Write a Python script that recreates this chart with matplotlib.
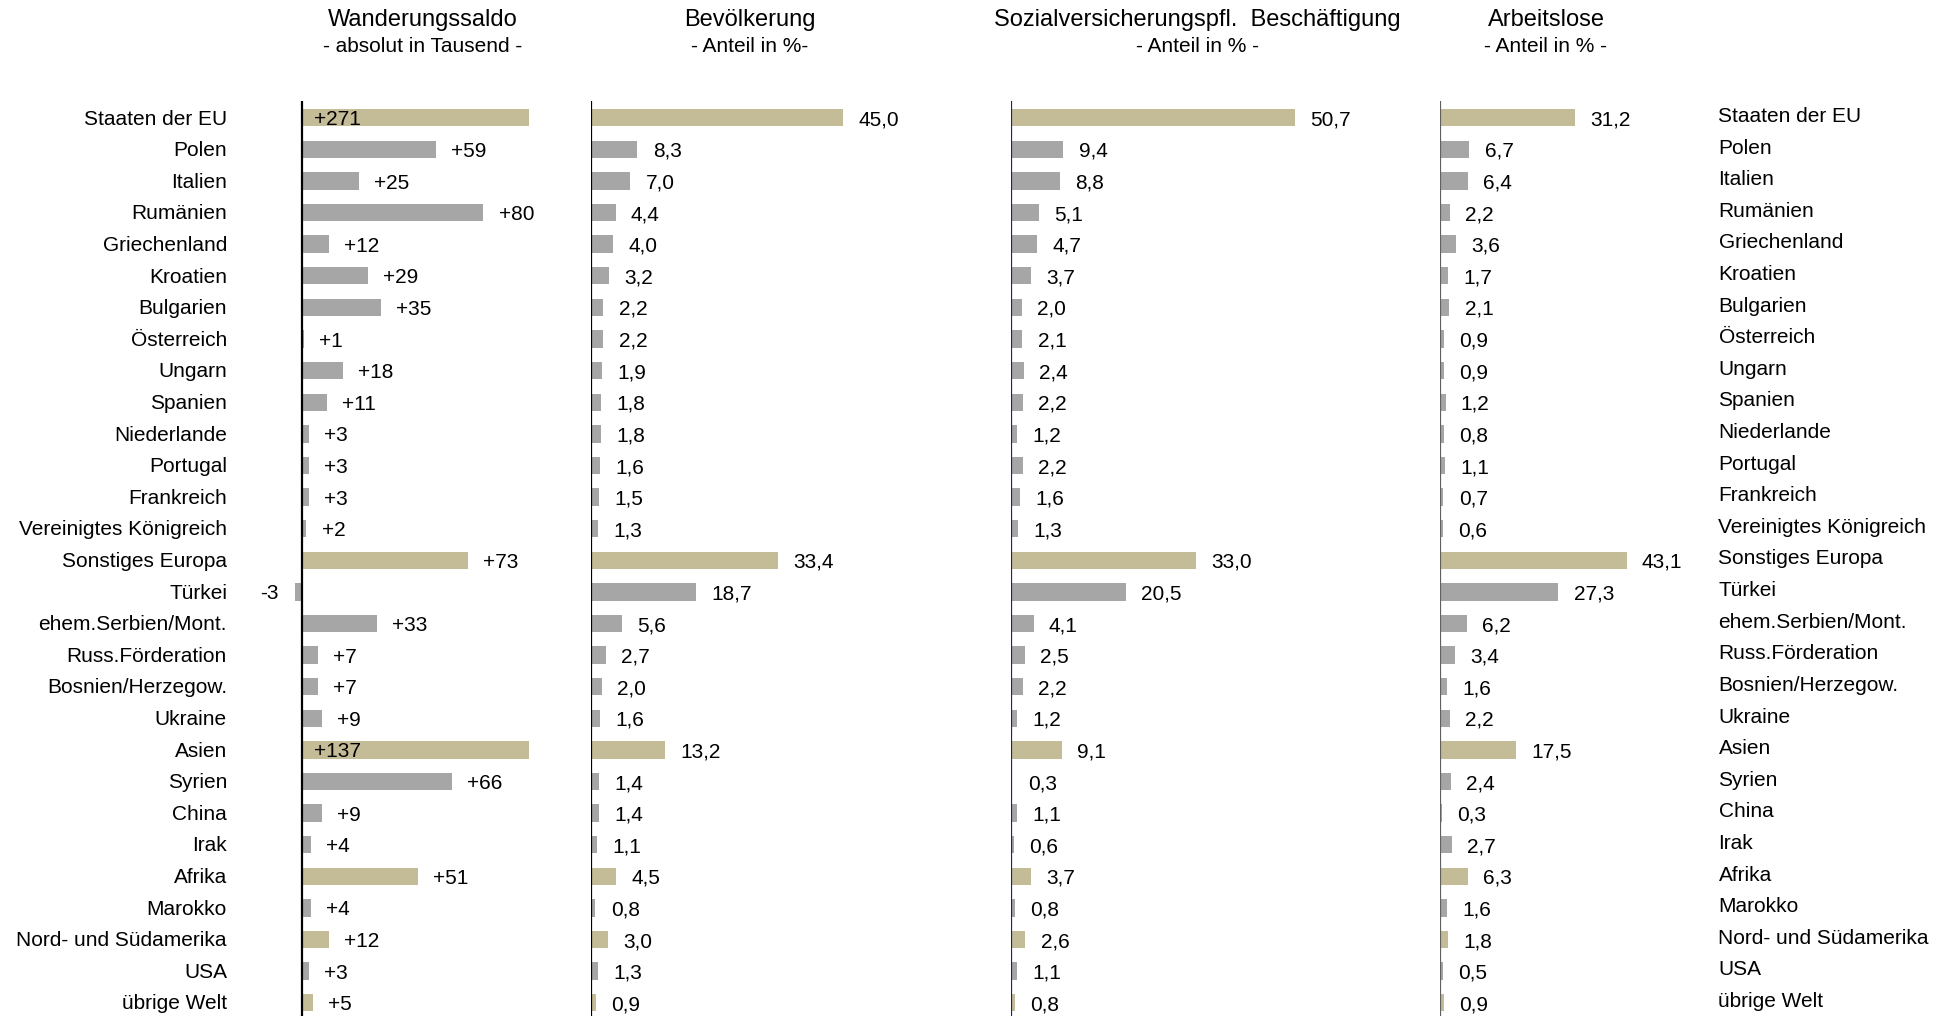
import matplotlib.pyplot as plt
import matplotlib.transforms as mtransforms

plt.rcParams['font.family'] = ['Liberation Sans', 'DejaVu Sans']

laender = ['Staaten der EU', 'Polen', 'Italien', 'Rumänien', 'Griechenland', 'Kroatien',
           'Bulgarien', 'Österreich', 'Ungarn', 'Spanien', 'Niederlande', 'Portugal',
           'Frankreich', 'Vereinigtes Königreich', 'Sonstiges Europa', 'Türkei',
           'ehem.Serbien/Mont.', 'Russ.Förderation', 'Bosnien/Herzegow.', 'Ukraine',
           'Asien', 'Syrien', 'China', 'Irak', 'Afrika', 'Marokko',
           'Nord- und Südamerika', 'USA', 'übrige Welt']
gruppen = ['Staaten der EU', 'Sonstiges Europa', 'Asien', 'Afrika',
           'Nord- und Südamerika', 'übrige Welt']

saldo = [271, 59, 25, 80, 12, 29, 35, 1, 18, 11, 3, 3, 3, 2, 73, -3, 33, 7, 7, 9,
         137, 66, 9, 4, 51, 4, 12, 3, 5]
bevoelkerung = [45.0, 8.3, 7.0, 4.4, 4.0, 3.2, 2.2, 2.2, 1.9, 1.8, 1.8, 1.6, 1.5, 1.3,
                33.4, 18.7, 5.6, 2.7, 2.0, 1.6, 13.2, 1.4, 1.4, 1.1, 4.5, 0.8, 3.0, 1.3, 0.9]
beschaeftigung = [50.7, 9.4, 8.8, 5.1, 4.7, 3.7, 2.0, 2.1, 2.4, 2.2, 1.2, 2.2, 1.6, 1.3,
                  33.0, 20.5, 4.1, 2.5, 2.2, 1.2, 9.1, 0.3, 1.1, 0.6, 3.7, 0.8, 2.6, 1.1, 0.8]
arbeitslose = [31.2, 6.7, 6.4, 2.2, 3.6, 1.7, 2.1, 0.9, 0.9, 1.2, 0.8, 1.1, 0.7, 0.6,
               43.1, 27.3, 6.2, 3.4, 1.6, 2.2, 17.5, 2.4, 0.3, 2.7, 6.3, 1.6, 1.8, 0.5, 0.9]

titel = ['Wanderungssaldo', 'Bevölkerung', 'Sozialversicherungspfl.  Beschäftigung', 'Arbeitslose']
untertitel = ['- absolut in Tausend -', '- Anteil in %-', '- Anteil in % -', '- Anteil in % -']

beige = '#c4bc97'
grau = '#a6a6a6'
farben = [beige if l in gruppen else grau for l in laender]

W, H = 1947, 1016
fig = plt.figure(figsize=(W / 100, H / 100), dpi=100)

# pixel layout: (axis line x, px per unit, xmin, xmax, axis color)
panels = [
    (301.7, 2.272, -8, 100, 'black'),
    (591.0, 5.60, 0, 50, 'black'),
    (1010.7, 5.61, 0, 55, '#1c1c96'),
    (1440.4, 4.32, 0, 50, '#606060'),
]
daten = [saldo, bevoelkerung, beschaeftigung, arbeitslose]
title_x = [423, 750, 1197, 1546]

y_top, y_bot = 101, 1016
rows = list(range(len(laender)))

for i, (x0, ppu, xmin, xmax, acol) in enumerate(panels):
    left = x0 + xmin * ppu
    width = (xmax - xmin) * ppu
    ax = fig.add_axes([left / W, 0, width / W, (y_bot - y_top) / H])
    ax.set_xlim(xmin, xmax)
    ax.set_ylim(28.42, -0.53)
    ax.axis('off')
    vals = daten[i]
    ax.barh(rows, vals, height=0.55, color=farben, zorder=2)
    ax.axvline(0, color=acol, lw=1.6, zorder=3)
    for r, v in zip(rows, vals):
        if i == 0:
            txt = '%+d' % v
            if v > xmax:
                ax.annotate(txt, (0, r), xytext=(9, -1.5), textcoords='offset points',
                            ha='left', va='center', fontsize=15)
            elif v < 0:
                ax.annotate(txt, (v, r), xytext=(-12, -1.5), textcoords='offset points',
                            ha='right', va='center', fontsize=15)
            else:
                ax.annotate(txt, (v, r), xytext=(11, -1.5), textcoords='offset points',
                            ha='left', va='center', fontsize=15)
        else:
            txt = ('%.1f' % v).replace('.', ',')
            ax.annotate(txt, (v, r), xytext=(11, -1.5), textcoords='offset points',
                        ha='left', va='center', fontsize=15)
    if i == 0:
        trans = mtransforms.blended_transform_factory(fig.transFigure, ax.transData)
        for r, l in zip(rows, laender):
            ax.text(227 / W, r + 0.04, l, transform=trans, ha='right', va='center', fontsize=15)
            ax.text(1718.5 / W, r - 0.04, l, transform=trans, ha='left', va='center', fontsize=15)
    fig.text(title_x[i] / W, 1 - 20 / H, titel[i], ha='center', va='center', fontsize=17)
    fig.text(title_x[i] / W, 1 - 47 / H, untertitel[i], ha='center', va='center', fontsize=15)

fig.savefig('out.png', dpi=100)
